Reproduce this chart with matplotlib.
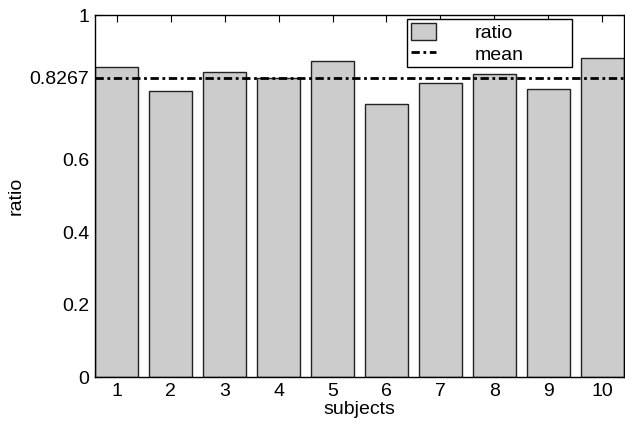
import matplotlib.pyplot as plt
import numpy as np

plt.rcParams['font.family'] = ['Liberation Sans', 'DejaVu Sans']

subjects = [1, 2, 3, 4, 5, 6, 7, 8, 9, 10]
ratio = [0.856, 0.789, 0.843, 0.825, 0.873, 0.755, 0.813, 0.837, 0.796, 0.880]
mean_val = np.mean(ratio)

fig = plt.figure(figsize=(6.25, 4.21), dpi=100)
ax = fig.add_axes([95 / 625, 44 / 421, 529 / 625, 362 / 421])

bars = ax.bar(subjects, ratio, width=0.8, color='#cccccc', edgecolor='#222222',
              linewidth=1.0, zorder=2)
mline = ax.axhline(mean_val, color='black', linestyle=(0, (3, 1.3, 1, 1.3)),
                   linewidth=2.0, zorder=3)

ax.set_xlim(0.6, 10.4)
ax.set_ylim(0, 1)
ax.set_xticks(subjects)
ax.set_yticks([0, 0.2, 0.4, 0.6, mean_val, 1])
ax.set_yticklabels(['0', '0.2', '0.4', '0.6', '%.4f' % mean_val, '1'])
ax.tick_params(direction='in', top=True, right=True, labelsize=14,
               length=5, width=0.8, pad=4)
for s in ax.spines.values():
    s.set_linewidth(1.0)

ax.set_xlabel('subjects', fontsize=14, labelpad=1)
ax.set_ylabel('ratio', fontsize=14, labelpad=4)

# legend box roughly at x 407-572, y 19-70 px
leg = ax.legend([bars, mline], ['ratio', 'mean'],
                loc='upper left', mode='expand',
                bbox_to_anchor=(407 / 625, 1 - 70 / 421, 165 / 625, 51 / 421),
                bbox_transform=fig.transFigure, fontsize=14, frameon=True,
                fancybox=False, edgecolor='black', handlelength=1.3,
                handleheight=1.0, handletextpad=2.0, borderpad=0.2,
                labelspacing=0.1, borderaxespad=0, framealpha=1)
leg.get_frame().set_linewidth(1.0)
leg.set_zorder(5)

fig.savefig('out.png', dpi=100)
